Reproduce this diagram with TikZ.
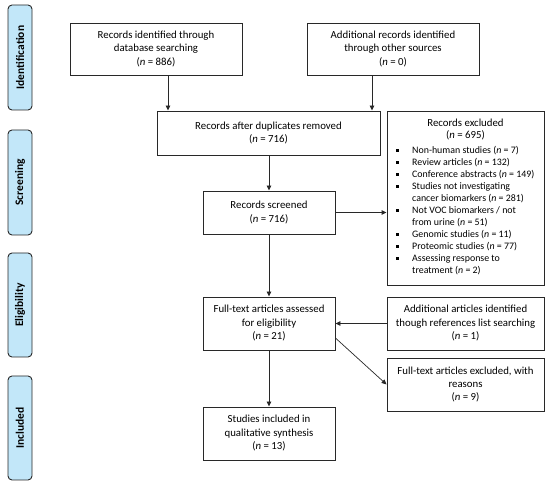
\documentclass[tikz,border=0pt]{standalone}
\usepackage{fontspec}
\setmainfont{Carlito}
\usetikzlibrary{arrows.meta,calc}
\definecolor{sidefill}{RGB}{194,231,249}
\definecolor{edge}{RGB}{40,40,40}
\newcommand{\sqb}{\makebox[16pt][l]{\rule[1.5pt]{2.6pt}{2.6pt}}}
\tikzset{
  box/.style={draw=edge,line width=0.9pt,inner sep=0pt,align=center,font=\fontsize{10.8pt}{13.5pt}\selectfont},
  side/.style={draw=edge,line width=0.9pt,fill=sidefill,rounded corners=4pt,minimum width=24pt,inner sep=0pt},
  sidetext/.style={rotate=90,font=\fontsize{11.5pt}{12pt}\selectfont\bfseries},
  arr/.style={line width=0.9pt,draw=edge,-{Triangle[length=5pt,width=4.5pt]}},
}
\begin{document}
\begin{tikzpicture}[x=1pt,y=-1pt]
\useasboundingbox (0,0) rectangle (550,489);
% side labels
\node[side,minimum height=105pt] (s1) at (20,57.5) {};
\node[sidetext] at (s1.center) {Identification};
\node[side,minimum height=105pt] (s2) at (20,182.5) {};
\node[sidetext] at (s2.center) {Screening};
\node[side,minimum height=104pt] (s3) at (20,305) {};
\node[sidetext] at (s3.center) {Eligibility};
\node[side,minimum height=104pt] (s4) at (20,428) {};
\node[sidetext] at (s4.center) {Included};
% boxes
\node[box,minimum width=172pt,minimum height=52pt] (b1) at (156,49) {Records identified through\\database searching\\(\textit{n} = 886)};
\node[box,minimum width=172pt,minimum height=52pt] (b2) at (393,49) {Additional records identified\\through other sources\\(\textit{n} = 0)};
\node[box,minimum width=223pt,minimum height=44pt] (b3) at (268.5,133) {Records after duplicates removed\\(\textit{n} = 716)};
\node[box,minimum width=157pt,minimum height=174pt] (ex) at (465.5,198) {};
\node[font=\fontsize{10.8pt}{12pt}\selectfont,align=center,anchor=north,inner sep=0pt] (exh) at (465.5,119) {Records excluded\\(\textit{n} = 695)};
\node[font=\fontsize{9.9pt}{12pt}\selectfont,align=left,anchor=north west,inner sep=0pt] (exl) at (396,146) {%
\sqb Non-human studies (\textit{n} = 7)\\
\sqb Review articles (\textit{n} = 132)\\
\sqb Conference abstracts (\textit{n} = 149)\\
\sqb Studies not investigating\\
\hspace*{16pt}cancer biomarkers (\textit{n} = 281)\\
\sqb Not VOC biomarkers / not\\
\hspace*{16pt}from urine (\textit{n} = 51)\\
\sqb Genomic studies (\textit{n} = 11)\\
\sqb Proteomic studies (\textit{n} = 77)\\
\sqb Assessing response to\\
\hspace*{16pt}treatment (\textit{n} = 2)};
\node[box,minimum width=132pt,minimum height=43pt] (sc) at (269,212.5) {Records screened\\(\textit{n} = 716)};
\node[box,minimum width=132pt,minimum height=53pt] (ft) at (269,323.5) {Full-text articles assessed\\for eligibility\\(\textit{n} = 21)};
\node[box,minimum width=157pt,minimum height=53pt] (ad) at (465.5,323.5) {Additional articles identified\\though references list searching\\(\textit{n} = 1)};
\node[box,minimum width=157pt,minimum height=53pt] (fx) at (465.5,384.5) {Full-text articles excluded, with\\reasons\\(\textit{n} = 9)};
\node[box,minimum width=132pt,minimum height=53pt] (in) at (269,433.5) {Studies included in\\qualitative synthesis\\(\textit{n} = 13)};
% connectors
\draw[arr] ([xshift=12pt]b1.south) -- ([xshift=12pt]b1.south |- b3.north);
\draw[arr] ([xshift=-21pt]b2.south) -- ([xshift=-21pt]b2.south |- b3.north);
\draw[arr] (b3.south -| sc.north) -- (sc.north);
\draw[arr] (sc.east) -- (sc.east -| ex.west);
\draw[arr] (sc.south) -- (ft.north);
\draw[arr] (ad.west) -- (ft.east);
\draw[arr,line width=0.7pt] ([yshift=-14.5pt]ft.east) -- (fx.west);
\draw[arr] (ft.south) -- (in.north);
\end{tikzpicture}
\end{document}
